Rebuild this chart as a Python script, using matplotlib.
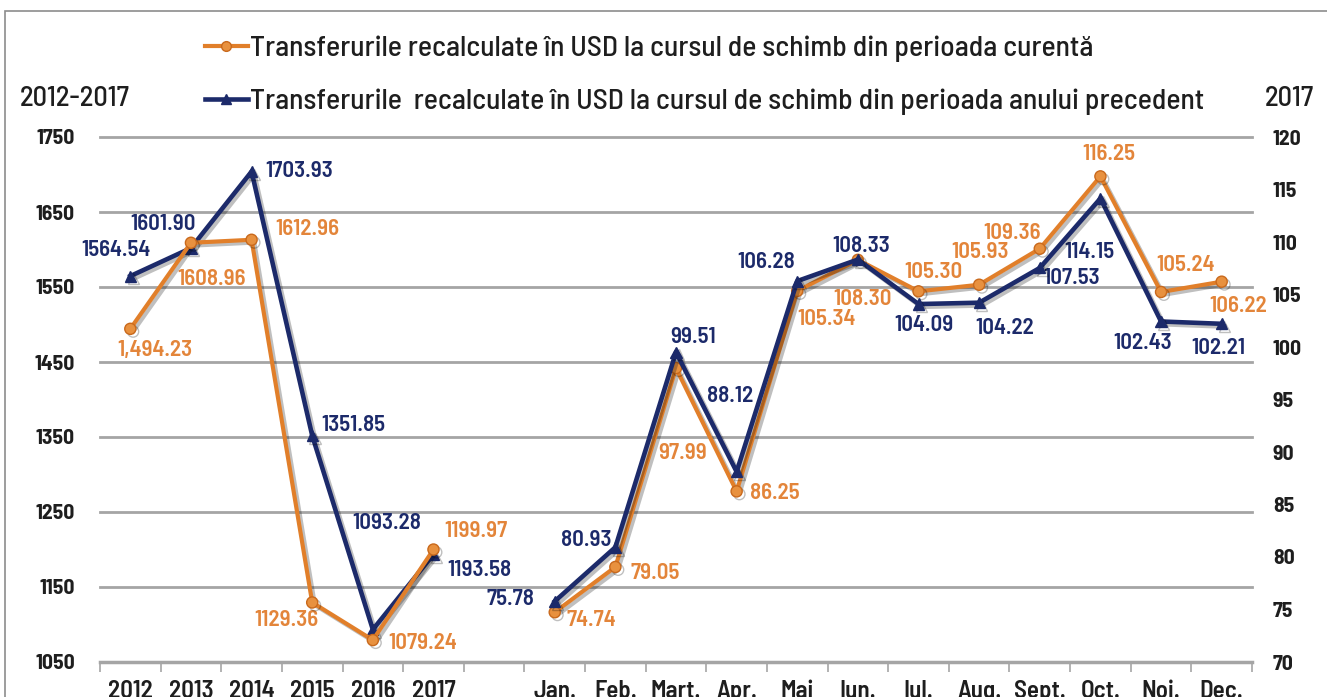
import matplotlib
matplotlib.use('Agg')
import matplotlib.pyplot as plt
import matplotlib.patheffects as pe
from matplotlib.lines import Line2D
from matplotlib.patches import Rectangle
import numpy as np

# ── data ──────────────────────────────────────────────────────────────────────
years = ['2012', '2013', '2014', '2015', '2016', '2017']
months = ['Jan.', 'Feb.', 'Mart.', 'Apr.', 'Mai', 'Iun.', 'Iul.', 'Aug.',
          'Sept.', 'Oct.', 'Noi.', 'Dec.']

curr_annual = [1494.23, 1608.96, 1612.96, 1129.36, 1079.24, 1199.97]
prev_annual = [1564.54, 1601.90, 1703.93, 1351.85, 1093.28, 1193.58]
curr_monthly = [74.74, 79.05, 97.99, 86.25, 105.34, 108.30, 105.30, 105.93,
                109.36, 116.25, 105.24, 106.22]
prev_monthly = [75.78, 80.93, 99.51, 88.12, 106.28, 108.33, 104.09, 104.22,
                107.53, 114.15, 102.43, 102.21]

curr_annual_lbl = ['1,494.23', '1608.96', '1612.96', '1129.36', '1079.24', '1199.97']

# label offsets in pixels (dx right, dy down) relative to the point
off_curr_annual = [(25, 21), (21, 36), (56, -11), (-26, 18), (50, 3), (42, -19)]
off_prev_annual = [(-14, -26), (-28, -24), (48, -1), (41, -11), (14, -107), (46, 16)]
off_curr_monthly = [(37, 8), (40, 6), (7, 85), (38, 2), (29, 28), (5, 39),
                    (15, -19), (1, -33), (-28, -16), (8, -22), (25, -27), (17, 24)]
off_prev_monthly = [(-44, -2), (-29, -7), (17, -15), (-7, -76), (-31, -19), (3, -14),
                    (5, 21), (26, 25), (32, 10), (-11, 54), (-18, 22), (-3, 24)]

ORANGE = '#E17F2A'
ORANGE_TXT = '#E3853A'
NAVY = '#1C2A6A'
TXT = '#1E1E1E'

plt.rcParams['font.family'] = ['Barlow Semi Condensed', 'DejaVu Sans']

x_years = np.arange(len(years))
x_months = np.arange(len(months)) + len(years) + 1
n_cat = len(years) + 1 + len(months)

fig = plt.figure(figsize=(13.27, 6.97), dpi=100)
ax = fig.add_axes([100 / 1327, 1 - 662 / 697, 1152 / 1327, 525 / 697])
ax2 = ax.twinx()

shadow = [pe.SimpleLineShadow(offset=(2, -2), alpha=0.25), pe.Normal()]

ax.plot(x_years, prev_annual, color=NAVY, lw=3.3, marker='^', ms=8,
        mfc=NAVY, mec=NAVY, zorder=3, path_effects=shadow)
ax.plot(x_years, curr_annual, color=ORANGE, lw=3.0, marker='o', ms=8,
        mfc='#E8913F', mec='#C9691C', zorder=4, path_effects=shadow)
ax2.plot(x_months, curr_monthly, color=ORANGE, lw=3.0, marker='o', ms=8,
         mfc='#E8913F', mec='#C9691C', zorder=3, path_effects=shadow)
ax2.plot(x_months, prev_monthly, color=NAVY, lw=3.3, marker='^', ms=8,
         mfc=NAVY, mec=NAVY, zorder=4, path_effects=shadow)

lbl_kw = dict(textcoords='offset pixels', ha='center', va='center',
              fontsize=16.5, fontweight='semibold')
for x, y, t, (dx, dy) in zip(x_years, curr_annual, curr_annual_lbl, off_curr_annual):
    ax.annotate(t, (x, y), xytext=(dx, -dy), color=ORANGE_TXT, **lbl_kw)
for x, y, (dx, dy) in zip(x_years, prev_annual, off_prev_annual):
    ax.annotate(f'{y:.2f}', (x, y), xytext=(dx, -dy), color=NAVY, **lbl_kw)
for x, y, (dx, dy) in zip(x_months, curr_monthly, off_curr_monthly):
    ax2.annotate(f'{y:.2f}', (x, y), xytext=(dx, -dy), color=ORANGE_TXT, **lbl_kw)
for x, y, (dx, dy) in zip(x_months, prev_monthly, off_prev_monthly):
    ax2.annotate(f'{y:.2f}', (x, y), xytext=(dx, -dy), color=NAVY, **lbl_kw)

# axes
ax.set_xlim(-0.5, n_cat - 0.5)
ax.set_ylim(1050, 1750)
ax2.set_ylim(70, 120)
ax.set_yticks(np.arange(1050, 1751, 100))
ax2.set_yticks(np.arange(70, 121, 5))
for y in range(1150, 1751, 100):
    ax.axhline(y, color='#A5A5A5', lw=2, zorder=1, clip_on=False)

ax.set_xticks(list(x_years) + [len(years)] + list(x_months))
ax.set_xticklabels(years + [''] + months)
ax.set_xticks(np.arange(-0.5, n_cat, 1), minor=True)
ax.tick_params(axis='x', which='major', length=0, pad=13, labelsize=18,
               labelcolor=TXT)
ax.tick_params(axis='x', which='minor', length=7, width=1.2, color='#A5A5A5')
for lab in ax.get_xticklabels():
    lab.set_fontweight('semibold')
ax.tick_params(axis='y', length=0, pad=18, labelsize=15.5, labelcolor=TXT)
ax2.tick_params(axis='y', length=0, pad=15, labelsize=15.5, labelcolor=TXT)
for lab in ax.get_yticklabels() + ax2.get_yticklabels():
    lab.set_fontweight('bold')

for a in (ax, ax2):
    for s in ('top', 'left', 'right'):
        a.spines[s].set_visible(False)
    a.spines['bottom'].set_color('#A5A5A5')
    a.spines['bottom'].set_linewidth(2.5)
ax2.spines['bottom'].set_visible(False)
ax.set_zorder(1)
ax2.set_zorder(2)
ax2.patch.set_visible(False)

# legend
handles = [
    Line2D([], [], color=ORANGE, lw=3, marker='o', ms=7, mfc='#E8913F', mec='#C9691C'),
    Line2D([], [], color=NAVY, lw=3.3, marker='^', ms=7, mfc=NAVY, mec=NAVY),
]
labels = ['Transferurile recalculate în USD la cursul de schimb din perioada curentă',
          'Transferurile  recalculate în USD la cursul de schimb din perioada anului precedent']
leg = fig.legend(handles, labels, loc='upper left', bbox_to_anchor=(190 / 1327, 1 - 21 / 697),
                 frameon=False, fontsize=21.3, handlelength=1.45, handletextpad=0.08,
                 labelspacing=0.88, borderpad=0, labelcolor=TXT)
for t in leg.get_texts():
    t.set_fontweight('medium')

fig.text(20 / 1327, 1 - 99 / 697, '2012-2017', fontsize=20.5, color=TXT,
         ha='left', va='center', fontweight='medium')
fig.text(1265 / 1327, 1 - 99 / 697, '2017', fontsize=20.5, color=TXT,
         ha='left', va='center', fontweight='medium')

fig.patches.append(Rectangle((5 / 1327, -0.1), 2, 1.1 - 11 / 697, transform=fig.transFigure,
                             fill=False, edgecolor='#8C8C8C', lw=1.2))

fig.savefig('out.png', dpi=100)
